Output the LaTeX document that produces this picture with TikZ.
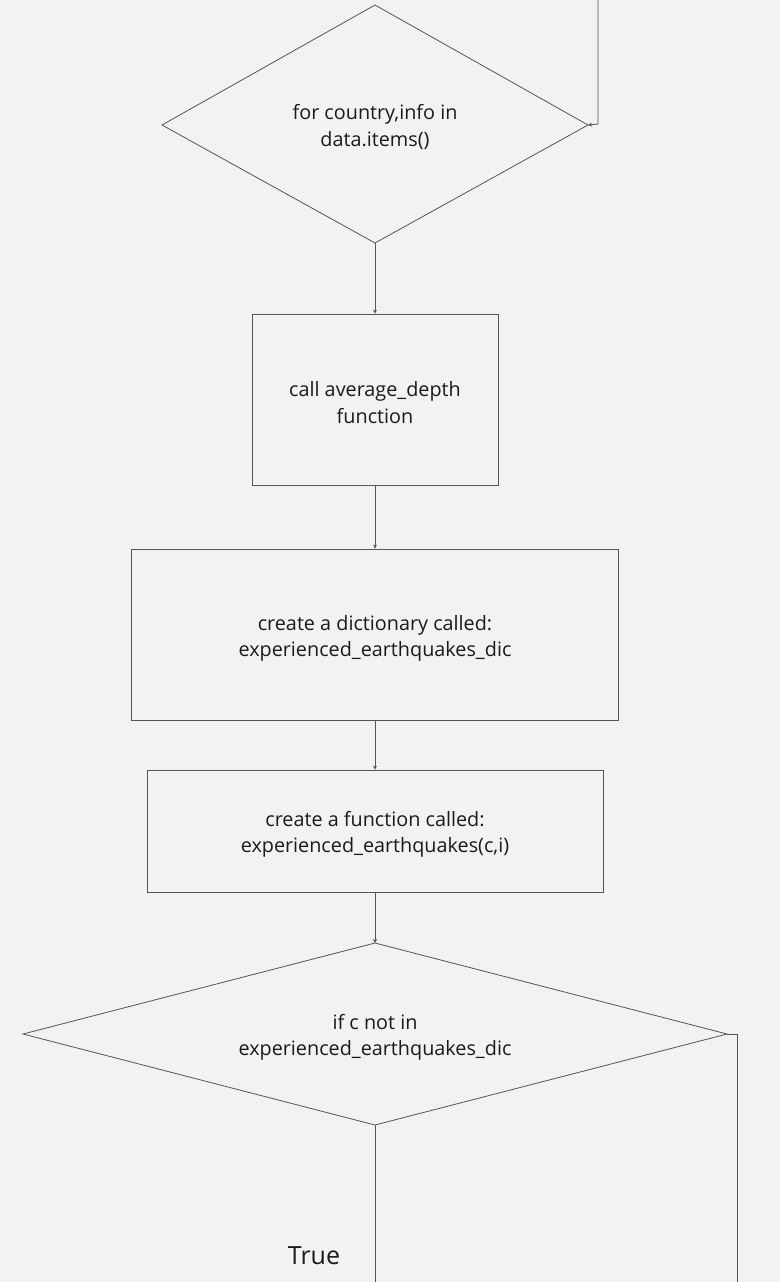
\documentclass[tikz,border=0pt]{standalone}
\usepackage{fontspec}
\setmainfont{Open Sans}
\usetikzlibrary{arrows.meta}
\definecolor{bg}{HTML}{F2F2F2}
\definecolor{ln}{HTML}{555555}
\definecolor{tx}{HTML}{1A1A1A}
\begin{document}
\begin{tikzpicture}[x=1pt,y=-1pt,
  shp/.style={draw=ln,line width=0.8pt},
  conn/.style={draw=ln,line width=0.8pt,-{Stealth[length=4pt,width=4pt]}},
  plain/.style={draw=ln,line width=0.8pt},
  lbl/.style={text=tx,font=\fontsize{19.8}{26.5}\selectfont,align=center},
  big/.style={text=tx,font=\fontsize{25}{30}\selectfont}]
\fill[bg] (0,0) rectangle (780,1282);
\useasboundingbox (0,0) rectangle (780,1282);
% diamond 1
\coordinate (d1t) at (375,5);
\coordinate (d1l) at (162,125);
\coordinate (d1r) at (588,125);
\coordinate (d1b) at (375,243);
\draw[shp] (d1t)--(d1r)--(d1b)--(d1l)--cycle;
\node[lbl] (t1) at (375,127) {for country,info in\\data.items()};
% loop in
\coordinate (lpa) at (598,0);
\coordinate (lpb) at (598,124);
\draw[conn] (lpa)--(lpb)--(d1r);
% rect 2
\node[shp,minimum width=246pt,minimum height=171pt] (r2) at (375,399.5) {};
\node[lbl] (t2) at (375,402.5) {call average\_depth\\function};
\draw[conn] (d1b)--(r2.north);
% rect 3
\node[shp,minimum width=487pt,minimum height=171pt] (r3) at (375,634.5) {};
\node[lbl] (t3) at (375,638.5) {create a dictionary called:\\experienced\_earthquakes\_dic};
\draw[conn] (r2.south)--(r3.north);
% rect 4
\node[shp,minimum width=456pt,minimum height=122pt] (r4) at (375,831) {};
\node[lbl] (t4) at (375,834.5) {create a function called:\\experienced\_earthquakes(c,i)};
\draw[conn] (r3.south)--(r4.north);
% diamond 5
\coordinate (d5t) at (375,943);
\coordinate (d5l) at (23,1034);
\coordinate (d5r) at (727,1034);
\coordinate (d5b) at (375,1125);
\draw[shp] (d5t)--(d5r)--(d5b)--(d5l)--cycle;
\node[lbl] (t5) at (375,1037.5) {if c not in\\experienced\_earthquakes\_dic};
\draw[conn] (r4.south)--(d5t);
% exits
\coordinate (e1) at (737,1034);
\coordinate (e2) at (737,1282);
\draw[plain] (d5r)--(e1)--(e2);
\coordinate (e3) at (375,1282);
\draw[plain] (d5b)--(e3);
\node[big] (tr) at (314,1256) {True};
\end{tikzpicture}
\end{document}
